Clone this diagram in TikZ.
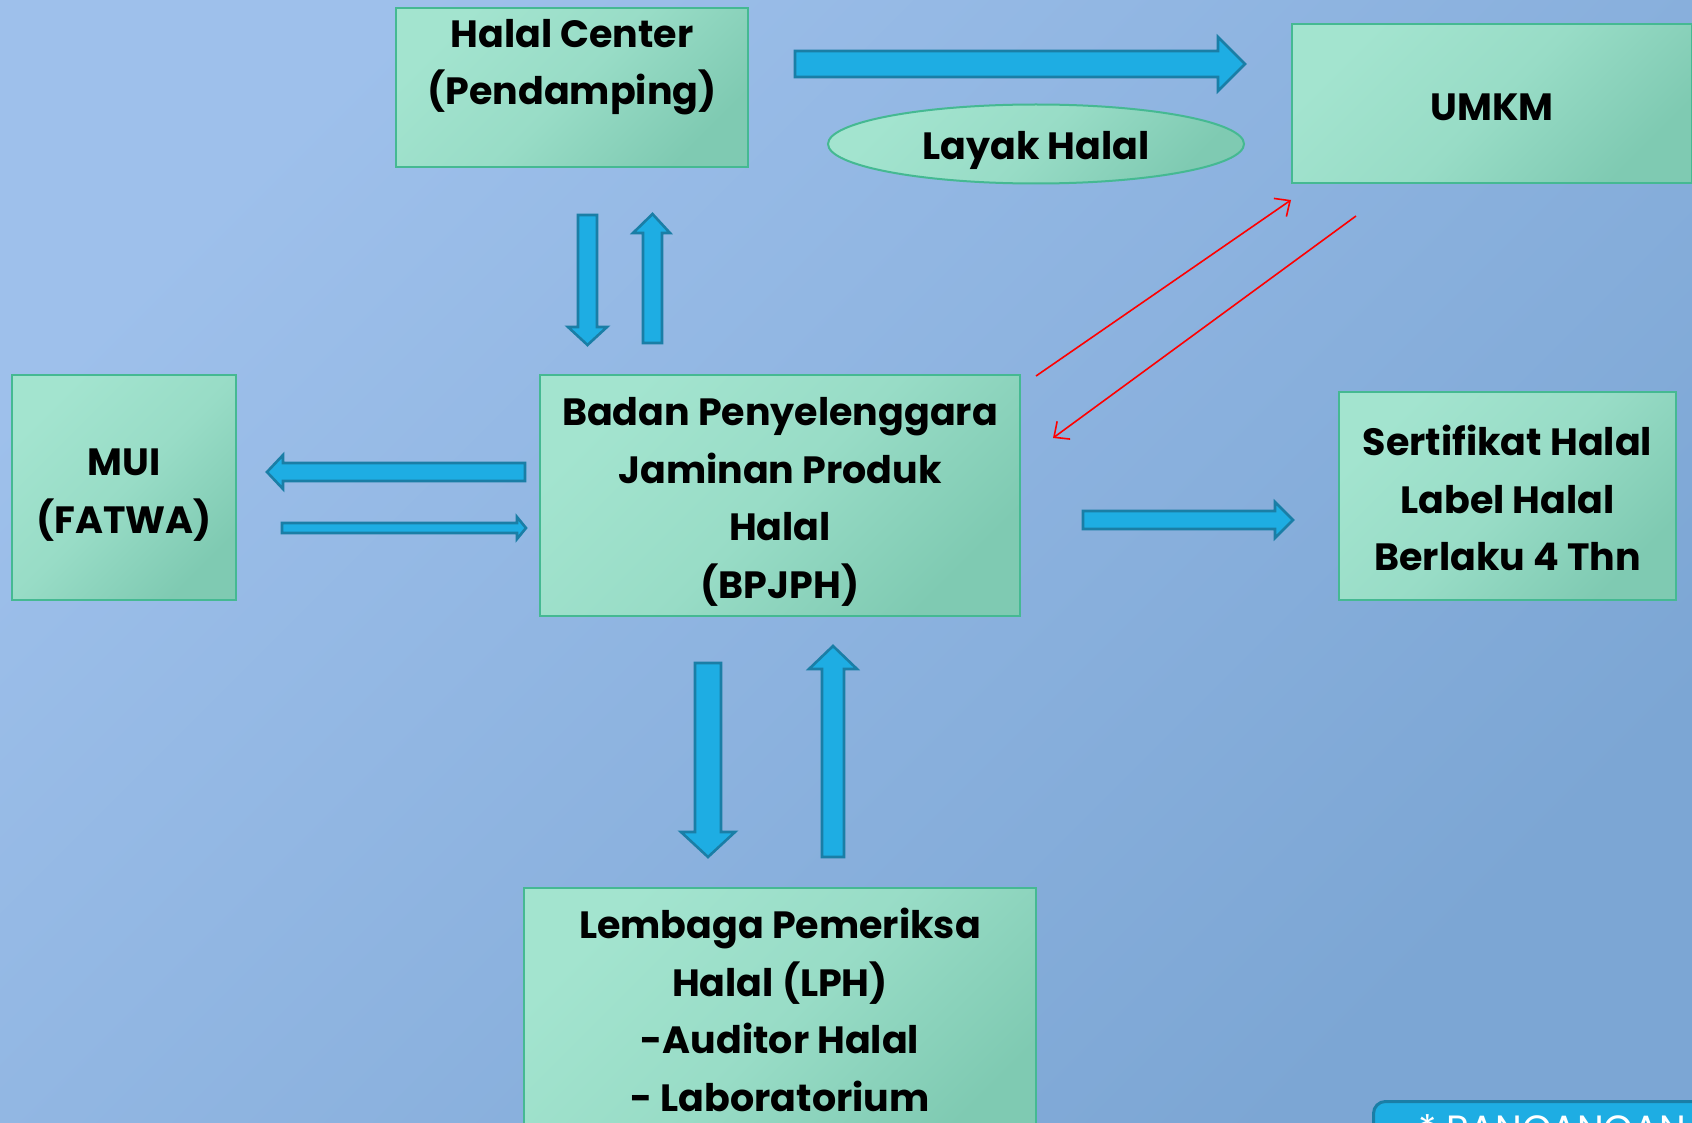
\documentclass[tikz,border=0pt]{standalone}
\usepackage{fontspec}
\setmainfont{Poppins}
\usetikzlibrary{arrows.meta,shapes.geometric}
\definecolor{bgL}{HTML}{9EC0EB}
\definecolor{bgD}{HTML}{7CA6D4}
\definecolor{mintL}{HTML}{A3E4CF}
\definecolor{mintD}{HTML}{7FCAB2}
\definecolor{mintB}{HTML}{45B992}
\definecolor{arrF}{HTML}{1EADE3}
\definecolor{arrB}{HTML}{1A7EA6}
\begin{document}
\begin{tikzpicture}[x=1pt,y=-1pt,
  boxstyle/.style={rectangle,draw=mintB,line width=2pt,top color=mintL,bottom color=mintD,middle color=mintL!70!mintD,shading angle=45,inner sep=0pt},
  txt/.style={font=\bfseries\fontsize{38}{57.5}\selectfont,align=center,inner sep=0pt,text=black},
  blockarrow/.style={fill=arrF,draw=arrB,line width=2.6pt,line join=miter},
  redarrow/.style={draw=red,line width=1.6pt,-{Straight Barb[length=12pt,width=22pt,line width=1.6pt]}}]
\useasboundingbox (0,0) rectangle (1692,1123);
\begin{scope}
\clip (0,0) rectangle (1692,1123);
\shade[top color=bgL,bottom color=bgD,shading angle=45] (0,0) rectangle (1692,1123);

% boxes
\node[boxstyle,minimum width=352pt,minimum height=159pt] (hc) at (572,87.5) {};
\node[txt] (hcT) at (572,67) {Halal Center\\(Pendamping)};
\node[boxstyle,minimum width=400pt,minimum height=159pt] (umkm) at (1492,103.5) {};
\node[txt] (umkmT) at (1492,107) {UMKM};
\node[ellipse,draw=mintB,line width=2pt,top color=mintL,bottom color=mintD,middle color=mintL!70!mintD,shading angle=45,minimum width=416pt,minimum height=79pt,inner sep=0pt] (lh) at (1036,144) {};
\node[txt] (lhT) at (1036,150) {Layak Halal};
\node[boxstyle,minimum width=224pt,minimum height=225pt] (mui) at (124,487.5) {};
\node[txt] (muiT) at (124,495) {MUI\\(FATWA)};
\node[boxstyle,minimum width=480pt,minimum height=241pt] (bp) at (780,495.5) {};
\node[txt] (bpT) at (780,502) {Badan Penyelenggara\\Jaminan Produk\\Halal\\(BPJPH)};
\node[boxstyle,minimum width=337pt,minimum height=208pt] (sh) at (1507.5,496) {};
\node[txt] (shT) at (1507.5,498) {Sertifikat Halal\\Label Halal\\Berlaku 4 Thn};
\node[boxstyle,minimum width=512pt,minimum height=272pt] (lph) at (780,1024) {};
\node[txt] (lphT) at (780,1010) {Lembaga Pemeriksa\\Halal (LPH)\\-Auditor Halal\\- Laboratorium};

% block arrows
\draw[blockarrow] (795,51) -- (1218,51) -- (1218,37) -- (1245,64) -- (1218,91) -- (1218,77) -- (795,77) -- cycle;
\draw[blockarrow] (525,463) -- (283,463) -- (283,455) -- (267,472) -- (283,489) -- (283,481) -- (525,481) -- cycle;
\draw[blockarrow] (282,523) -- (517,523) -- (517,517) -- (526,528) -- (517,539) -- (517,533) -- (282,533) -- cycle;
\draw[blockarrow] (578,215) -- (597,215) -- (597,327) -- (607,327) -- (587.5,345) -- (568,327) -- (578,327) -- cycle;
\draw[blockarrow] (643,343) -- (662,343) -- (662,233) -- (670,233) -- (652.5,214) -- (633,233) -- (643,233) -- cycle;
\draw[blockarrow] (695,663) -- (721,663) -- (721,832) -- (735,832) -- (708,857) -- (681,832) -- (695,832) -- cycle;
\draw[blockarrow] (822,857) -- (844,857) -- (844,669) -- (857,669) -- (833,646) -- (809,669) -- (822,669) -- cycle;
\draw[blockarrow] (1083,511) -- (1275,511) -- (1275,502) -- (1293,520) -- (1275,538) -- (1275,529) -- (1083,529) -- cycle;

% red arrows
\coordinate (r1s) at (1036,376);
\coordinate (r1e) at (1291,200);
\coordinate (r2s) at (1356,216);
\coordinate (r2e) at (1053,438);
\draw[redarrow] (r1s) -- (r1e);
\draw[redarrow] (r2s) -- (r2e);

% bottom-right button
\node[rectangle,rounded corners=12pt,fill=arrF,draw=arrB,line width=3pt,minimum width=420pt,minimum height=100pt,anchor=north west] (btn) at (1372,1100) {};
\node[anchor=base west,inner sep=0pt,text=white,font=\fontsize{38}{40}\selectfont] (btnT) at (1418,1142) {* RANCANGAN};
\end{scope}
\end{tikzpicture}
\end{document}
